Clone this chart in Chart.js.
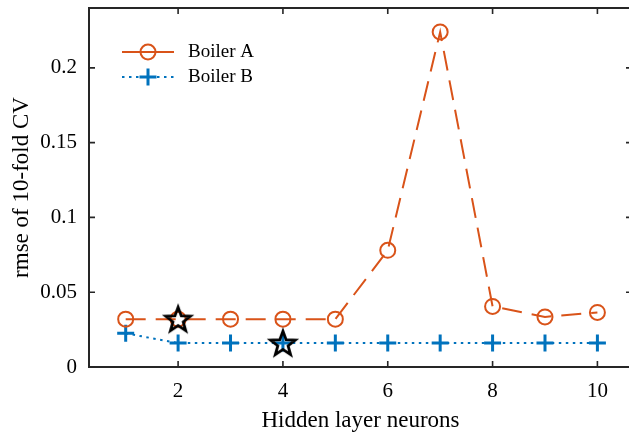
<!DOCTYPE html>
<html>
<head>
<meta charset="utf-8">
<script src="https://cdn.jsdelivr.net/npm/chart.js@4/dist/chart.umd.min.js"></script>
<style>
  html, body { margin: 0; padding: 0; background: #fff; overflow: hidden; }
  #wrap { width: 632px; height: 437px; }
</style>
</head>
<body>
<div id="wrap"><canvas id="myChart" width="632" height="437"></canvas></div>
<script>
// hidden layer size vs. cross-validation error
const neurons = [1, 2, 3, 4, 5, 6, 7, 8, 9, 10];
const boilerA = [0.032, 0.032, 0.032, 0.032, 0.032, 0.078, 0.224, 0.0405, 0.0335, 0.0365];
const boilerB = [0.0225, 0.016, 0.016, 0.016, 0.016, 0.016, 0.016, 0.016, 0.016, 0.016];
// chosen network size for each boiler
const bestN = [2, 4];
const bestErr = [0.032, 0.016];
const xTicks = [2, 4, 6, 8, 10];
const yTicks = [0, 0.05, 0.1, 0.15, 0.2];

const orange = '#D95319';
const blue = '#0072BD';
const axisColor = '#262626';
const textColor = '#000';
const serif = "'Liberation Serif', 'Times New Roman', serif";

function points(xs, ys) {
  return xs.map(function(x, i) { return {x: x, y: ys[i]}; });
}

// 5-point star marker
function makeStar() {
  var c = document.createElement('canvas');
  c.width = 34; c.height = 34;
  var g = c.getContext('2d');
  var R = 13, r = 5.4;
  g.beginPath();
  for (var i = 0; i < 10; i++) {
    var rad = (i % 2 === 0) ? R : r;
    var a = -Math.PI / 2 + i * Math.PI / 5;
    var px = 17 + rad * Math.cos(a), py = 18 + rad * Math.sin(a);
    if (i === 0) g.moveTo(px, py); else g.lineTo(px, py);
  }
  g.closePath();
  g.lineJoin = 'miter';
  g.lineWidth = 2.8;
  g.strokeStyle = '#000';
  g.stroke();
  return c;
}

// box round the plot with inward ticks on all four sides
const frame = {
  id: 'frame',
  afterDraw: function(chart) {
    var ctx = chart.ctx, a = chart.chartArea;
    var xs = chart.scales.x, ys = chart.scales.y;
    var len = 6;
    ctx.save();
    ctx.strokeStyle = axisColor;
    ctx.lineWidth = 2;
    ctx.strokeRect(a.left, a.top, a.right - a.left, a.bottom - a.top);
    ctx.lineWidth = 1.6;
    ctx.beginPath();
    xTicks.forEach(function(v) {
      var px = xs.getPixelForValue(v);
      ctx.moveTo(px, a.bottom); ctx.lineTo(px, a.bottom - len);
      ctx.moveTo(px, a.top); ctx.lineTo(px, a.top + len);
    });
    yTicks.forEach(function(v) {
      var py = ys.getPixelForValue(v);
      ctx.moveTo(a.left, py); ctx.lineTo(a.left + len, py);
      ctx.moveTo(a.right, py); ctx.lineTo(a.right - len, py);
    });
    ctx.stroke();
    ctx.restore();
  }
};

// legend in the upper left corner, line sample with marker
const cornerLegend = {
  id: 'cornerLegend',
  afterDatasetsDraw: function(chart) {
    var ctx = chart.ctx, a = chart.chartArea;
    var x0 = a.left + 33, x1 = a.left + 85, xm = (x0 + x1) / 2;
    var rows = [chart.data.datasets[1], chart.data.datasets[2]];
    ctx.save();
    rows.forEach(function(ds, i) {
      var y = a.top + 44 + i * 25;
      ctx.strokeStyle = ds.borderColor;
      ctx.lineWidth = 2;
      ctx.setLineDash(i === 0 ? [] : [2.5, 4.5]);
      ctx.beginPath(); ctx.moveTo(x0, y); ctx.lineTo(x1, y); ctx.stroke();
      ctx.setLineDash([]);
      ctx.lineWidth = ds.pointBorderWidth;
      ctx.beginPath();
      if (ds.pointStyle === 'circle') {
        ctx.arc(xm, y, ds.pointRadius, 0, Math.PI * 2);
      } else {
        ctx.moveTo(xm - ds.pointRadius, y); ctx.lineTo(xm + ds.pointRadius, y);
        ctx.moveTo(xm, y - ds.pointRadius); ctx.lineTo(xm, y + ds.pointRadius);
      }
      ctx.stroke();
      ctx.fillStyle = textColor;
      ctx.font = '19px ' + serif;
      ctx.textBaseline = 'middle';
      ctx.fillText(ds.label, a.left + 99, y);
    });
    ctx.restore();
  }
};

const ctx = document.getElementById('myChart').getContext('2d');
const chart = new Chart(ctx, {
  type: 'line',
  data: {
    datasets: [{
      label: 'best',
      data: points(bestN, bestErr),
      showLine: false,
      pointStyle: makeStar(),
      pointRadius: 13,
      order: 0
    }, {
      label: 'Boiler A',
      data: points(neurons, boilerA),
      borderColor: orange,
      borderWidth: 2,
      borderDash: [20, 10],
      pointStyle: 'circle',
      pointRadius: 7.5,
      pointBorderWidth: 2,
      pointBorderColor: orange,
      pointBackgroundColor: 'rgba(0,0,0,0)',
      tension: 0,
      order: 1
    }, {
      label: 'Boiler B',
      data: points(neurons, boilerB),
      borderColor: blue,
      borderWidth: 2,
      borderDash: [2.5, 4.5],
      pointStyle: 'cross',
      pointRadius: 8.5,
      pointBorderWidth: 3,
      pointBorderColor: blue,
      pointBackgroundColor: blue,
      tension: 0,
      order: 2
    }]
  },
  options: {
    responsive: false,
    animation: false,
    events: [],
    layout: { autoPadding: false, padding: { top: 8, right: 0, left: 0, bottom: 0 } },
    plugins: { legend: { display: false }, tooltip: { enabled: false } },
    scales: {
      x: {
        type: 'linear',
        min: 0.3,
        max: 10.66,
        grid: { display: false, drawTicks: false },
        border: { display: false },
        afterBuildTicks: function(s) { s.ticks = xTicks.map(function(v) { return {value: v}; }); },
        afterFit: function(s) {
          s.height = 70;
          s.paddingLeft = 0; s.paddingRight = 0;
        },
        ticks: {
          padding: 12,
          color: textColor,
          font: { family: serif, size: 21 },
          maxRotation: 0,
          callback: function(v) { return String(v); }
        },
        title: {
          display: true,
          text: 'Hidden layer neurons',
          color: textColor,
          font: { family: serif, size: 23 },
          padding: { top: 0, bottom: 2 }
        }
      },
      y: {
        min: 0,
        max: 0.24,
        grid: { display: false, drawTicks: false },
        border: { display: false },
        afterBuildTicks: function(s) { s.ticks = yTicks.map(function(v) { return {value: v}; }); },
        afterFit: function(s) {
          s.width = 89;
          s.paddingTop = 0; s.paddingBottom = 0;
        },
        ticks: {
          padding: 12,
          color: textColor,
          font: { family: serif, size: 21 },
          callback: function(v) { return String(v); }
        },
        title: {
          display: true,
          text: 'rmse of 10-fold CV',
          color: textColor,
          font: { family: serif, size: 23 },
          padding: { top: 8, bottom: 0 }
        }
      }
    }
  },
  plugins: [frame, cornerLegend]
});
</script>
</body>
</html>
